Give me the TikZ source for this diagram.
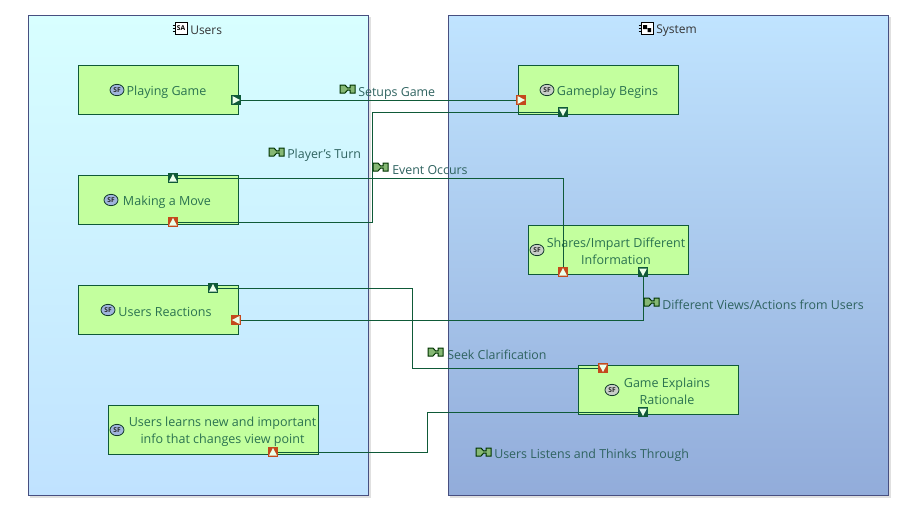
\documentclass[tikz,border=0pt]{standalone}
\usepackage{fontspec}
\setmainfont{Open Sans}
\usetikzlibrary{shapes.geometric}
\definecolor{edgegreen}{HTML}{0F5A38}
\definecolor{boxfill}{HTML}{C3FF9E}
\definecolor{funtext}{HTML}{2B7350}
\definecolor{extext}{HTML}{2F6360}
\definecolor{frameedge}{HTML}{474F80}
\definecolor{portred}{HTML}{C4491C}
\definecolor{iconedge}{HTML}{123A2A}
\definecolor{sfblue}{HTML}{A0B4DC}
\definecolor{sfgray}{HTML}{C8CEC8}
\definecolor{exgreen}{HTML}{86B874}
\tikzset{
  frame/.style={draw=frameedge,line width=0.75pt},
  funcbox/.style={draw=edgegreen,fill=boxfill,line width=0.75pt,inner sep=0pt,anchor=north west},
  funclabel/.style={text=funtext,font=\fontsize{9.4}{12.8}\selectfont,align=center,inner sep=0pt},
  exlabel/.style={text=extext,font=\fontsize{9.3}{11}\selectfont,anchor=west,inner sep=0pt},
  titlelabel/.style={text=black!80,font=\fontsize{9}{11}\selectfont,anchor=west,inner sep=0pt},
  portnode/.style={draw=none,minimum width=7.5pt,minimum height=7.5pt,inner sep=0pt},
  wire/.style={draw=edgegreen,line width=0.75pt},
  sficon/.style={draw=iconedge,ellipse,line width=0.6pt,minimum width=10.5pt,minimum height=8.5pt,inner sep=0pt,font=\fontsize{5}{5}\bfseries\selectfont,text=black!85}
}
% name, x, y, colour, rotation on screen (0 = right, 90 = down, -90 = up)
\newcommand{\portmark}[5]{%
  \node[portnode,fill=#4] (#1) at (#2,#3) {};
  \begin{scope}[shift={(#2,#3)},rotate=-#5]
    \fill[white!92!green] (-3.5,-4) -- (4,0) -- (-3.5,4) -- cycle;
  \end{scope}}
% x, y: functional exchange icon
\newcommand{\exmark}[2]{%
  \begin{scope}[shift={(#1,#2)}]
    \draw[black!80!green,fill=exgreen,line width=0.75pt] (0,-4) -- (5,-4) -- (7.5,-1.2) -- (10,-1.2) -- (10,-4) -- (15,-4) -- (15,4) -- (10,4) -- (10,1.2) -- (7.5,1.2) -- (5,4) -- (0,4) -- cycle;
  \end{scope}}
\begin{document}
\begin{tikzpicture}[x=0.75pt,y=-0.75pt]
\useasboundingbox (0,0) rectangle (899,514);
\fill[white] (0,0) rectangle (899,514);
% shadows
\fill[black!12] (30,17) rectangle (370.5,497.5);
\fill[black!12] (450,17) rectangle (890.5,497.5);
% frames
\shade[top color={rgb,255:red,216;green,255;blue,255},bottom color={rgb,255:red,192;green,226;blue,255}] (28,15) rectangle (368,495);
\draw[frame] (28.5,15.5) rectangle (368.5,495.5);
\shade[top color={rgb,255:red,192;green,228;blue,255},bottom color={rgb,255:red,146;green,172;blue,218}] (448,15) rectangle (888,495);
\draw[frame] (448.5,15.5) rectangle (888.5,495.5);
% titles
\draw[black,fill=white,line width=0.6pt] (175,22.5) rectangle (187,34);
\draw[black,line width=0.6pt] (172.5,25) -- (175,25) (172.5,28) -- (175,28) (172.5,31) -- (175,31);
\node[inner sep=0pt,font=\fontsize{5}{5}\selectfont\bfseries] (saicon) at (181,28.5) {SA};
\node[titlelabel] (userstitle) at (190,30.5) {Users};
\draw[black,fill=white,line width=0.6pt] (641,22.5) rectangle (653,34);
\draw[black,line width=0.6pt] (638.5,25) -- (641,25) (638.5,28) -- (641,28) (638.5,31) -- (641,31);
\fill[black] (643,25) rectangle (647,29) (647.5,28) rectangle (651,32);
\node[titlelabel] (systitle) at (656,30.5) {System};
% function boxes
\node[funcbox,minimum width=120pt,minimum height=36.75pt] (b1) at (78,65) {};
\node[funcbox,minimum width=120pt,minimum height=36.75pt] (b2) at (78,175) {};
\node[funcbox,minimum width=120pt,minimum height=36.75pt] (b3) at (78,285) {};
\node[funcbox,minimum width=157.5pt,minimum height=36.75pt] (b4) at (108,405) {};
\node[funcbox,minimum width=120pt,minimum height=36.75pt] (b5) at (518,65) {};
\node[funcbox,minimum width=120pt,minimum height=36.75pt] (b6) at (528,225) {};
\node[funcbox,minimum width=120pt,minimum height=36.75pt] (b7) at (578,365) {};
% function icons
\node[sficon,fill=sfblue] (i1) at (117,90) {SF};
\node[sficon,fill=sfblue] (i2) at (111,200) {SF};
\node[sficon,fill=sfblue] (i3) at (108,310) {SF};
\node[sficon,fill=sfblue] (i4) at (117,430) {SF};
\node[sficon,fill=sfgray] (i5) at (547,90) {SF};
\node[sficon,fill=sfgray] (i6) at (537,250) {SF};
\node[sficon,fill=sfgray] (i7) at (612,390) {SF};
% function labels
\node[funclabel] (t1) at (166.5,92) {Playing Game};
\node[funclabel] (t2) at (167,202) {Making a Move};
\node[funclabel] (t3) at (165,312) {Users Reactions};
\node[funclabel] (t4) at (222.5,431.5) {Users learns new and important\\info that changes view point};
\node[funclabel] (t5) at (607.5,92) {Gameplay Begins};
\node[funclabel] (t6) at (616,251.5) {Shares/Impart Different\\Information};
\node[funclabel] (t7) at (667,391.5) {Game Explains\\Rationale};
% bends
\coordinate (k2) at (372.5,170);
\coordinate (k5) at (412.5,330);
\coordinate (k6) at (427.5,430);
% ports
\portmark{p1}{236}{100}{edgegreen}{0}
\portmark{p2}{521}{100}{portred}{0}
\portmark{p3}{563}{112}{edgegreen}{90}
\portmark{p4}{173}{222}{portred}{-90}
\portmark{p5}{173}{178}{edgegreen}{-90}
\portmark{p6}{563}{272}{portred}{-90}
\portmark{p7}{643}{272}{edgegreen}{90}
\portmark{p8}{236}{320}{portred}{180}
\portmark{p9}{213}{288}{edgegreen}{-90}
\portmark{p10}{603}{368}{portred}{90}
\portmark{p11}{643}{412}{edgegreen}{90}
\portmark{p12}{273}{452}{portred}{-90}
% connectors
\draw[wire] (p1.east) -- (p2.west);
\draw[wire] (p3.west) -| (k2) |- (p4.east);
\draw[wire] (p5.east) -| (p6.north);
\draw[wire] (p7.south) |- (p8.east);
\draw[wire] (p9.east) -| (k5) |- (p10.west);
\draw[wire] (p11.west) -| (k6) |- (p12.east);
% exchange labels
\exmark{340}{89}
\node[exlabel] (e1) at (358,93) {Setups Game};
\exmark{269}{152}
\node[exlabel] (e2) at (287,155.5) {Player's Turn};
\exmark{373}{167}
\node[exlabel] (e3) at (392,170) {Event Occurs};
\exmark{644}{302}
\node[exlabel] (e4) at (662,305) {Different Views/Actions from Users};
\exmark{428}{352}
\node[exlabel] (e5) at (447,355) {Seek Clarification};
\exmark{476}{452}
\node[exlabel] (e6) at (494,455.5) {Users Listens and Thinks Through};
\end{tikzpicture}
\end{document}
